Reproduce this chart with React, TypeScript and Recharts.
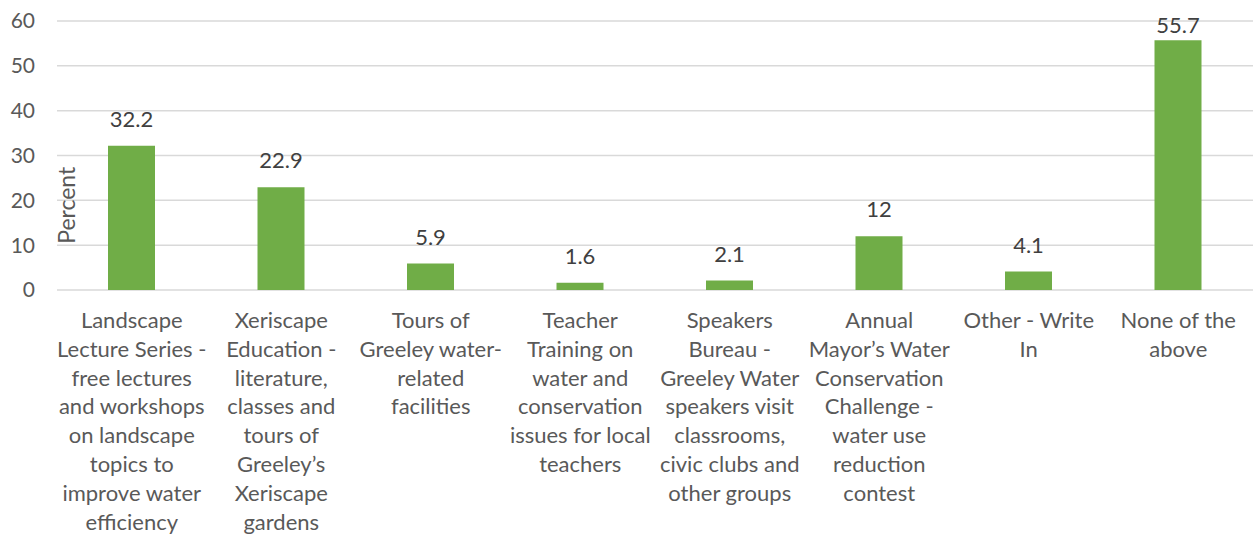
import { BarChart, Bar, XAxis, YAxis, CartesianGrid, LabelList } from 'recharts';

const categories = [
  'Landscape\nLecture Series -\nfree lectures\nand workshops\non landscape\ntopics to\nimprove water\nefficiency',
  'Xeriscape\nEducation -\nliterature,\nclasses and\ntours of\nGreeley’s\nXeriscape\ngardens',
  'Tours of\nGreeley water-\nrelated\nfacilities',
  'Teacher\nTraining on\nwater and\nconservation\nissues for local\nteachers',
  'Speakers\nBureau -\nGreeley Water\nspeakers visit\nclassrooms,\ncivic clubs and\nother groups',
  'Annual\nMayor’s Water\nConservation\nChallenge -\nwater use\nreduction\ncontest',
  'Other - Write\nIn',
  'None of the\nabove',
];

const percents = [32.2, 22.9, 5.9, 1.6, 2.1, 12, 4.1, 55.7];

const yTicks = [0, 10, 20, 30, 40, 50, 60];

const data = categories.map((category, i) => ({ category, percent: percents[i] }));

const FONT = 'Lato, "Noto Sans", sans-serif';
const PLOT_TOP = 21;

function CategoryTick({ x, y, payload }: any) {
  const lines = String(payload.value).split('\n');
  return (
    <text x={x} y={y} textAnchor="middle" fill="#595959" fontSize={22} fontFamily={FONT}>
      {lines.map((line, i) => (
        <tspan key={i} x={x} dy={i === 0 ? 38 : 28.8}>
          {line}
        </tspan>
      ))}
    </text>
  );
}

function PercentLabel({ viewBox }: any) {
  const cx = viewBox.x + viewBox.width + 18;
  const cy = viewBox.y + viewBox.height * 0.685;
  return (
    <text
      x={cx}
      y={cy}
      transform={`rotate(-90 ${cx} ${cy})`}
      textAnchor="middle"
      fill="#595959"
      fontSize={23}
      fontFamily={FONT}
    >
      Percent
    </text>
  );
}

// value label above the bar, kept inside the plot like Excel does
function ValueLabel({ x, y, width, value }: any) {
  const baseline = Math.max(y - 19, PLOT_TOP + 12);
  return (
    <text
      x={x + width / 2}
      y={baseline}
      textAnchor="middle"
      fill="#404040"
      fontSize={22}
      fontFamily={FONT}
    >
      {value}
    </text>
  );
}

export default function App() {
  return (
    <div style={{ position: 'absolute', left: 0, top: 0, background: '#fff' }}>
      <BarChart
        width={1253}
        height={537}
        data={data}
        margin={{ top: PLOT_TOP, right: 0, left: 0, bottom: 0 }}
      >
        <CartesianGrid horizontal={true} vertical={false} stroke="#D9D9D9" strokeWidth={1.5} />
        <XAxis
          dataKey="category"
          height={247}
          axisLine={false}
          tickLine={false}
          tickSize={0}
          tickMargin={0}
          interval={0}
          tick={<CategoryTick />}
        />
        <YAxis
          width={57}
          domain={[0, 60]}
          ticks={yTicks}
          axisLine={false}
          tickLine={false}
          tickSize={0}
          tickMargin={22}
          tick={{ fill: '#595959', fontSize: 21, fontFamily: FONT }}
          label={<PercentLabel />}
        />
        <Bar dataKey="percent" fill="#70AD47" barSize={47} isAnimationActive={false}>
          <LabelList dataKey="percent" content={<ValueLabel />} />
        </Bar>
      </BarChart>
    </div>
  );
}
